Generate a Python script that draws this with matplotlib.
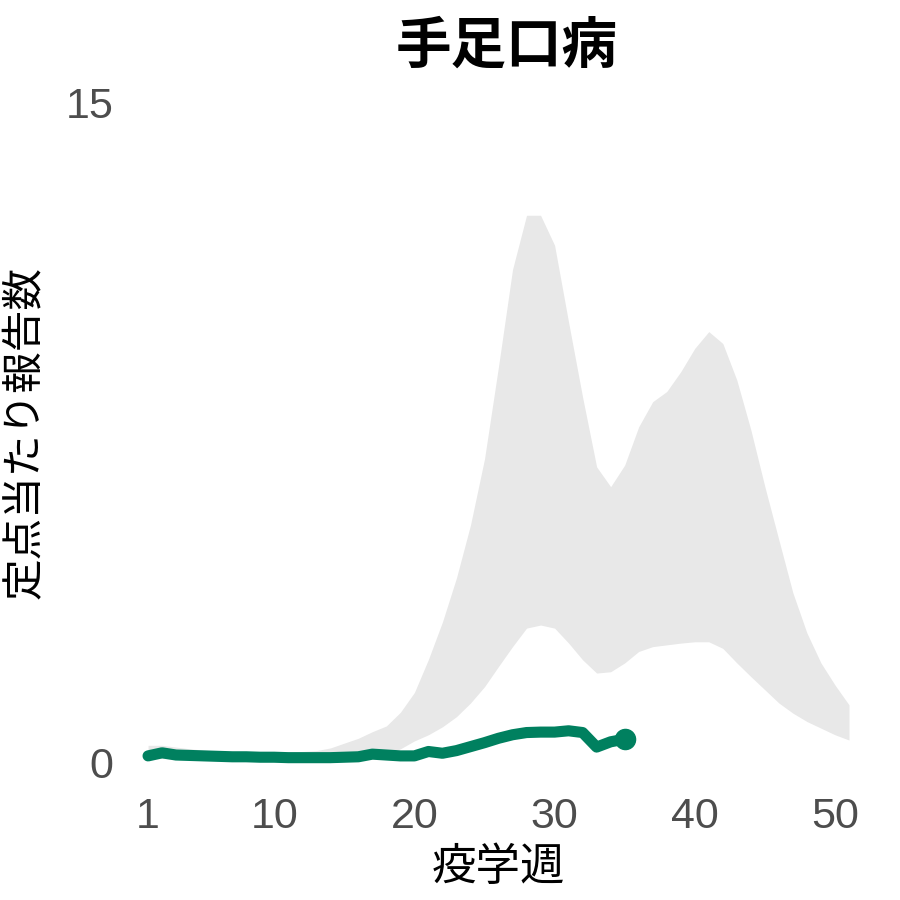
import matplotlib
matplotlib.use("Agg")
import matplotlib.pyplot as plt
import numpy as np

# past-years range (min / max per epidemiological week)
weeks = np.arange(1, 52)
band_low = [0.10, 0.10, 0.09, 0.08, 0.07, 0.06, 0.06, 0.05, 0.05, 0.05,
            0.05, 0.05, 0.05, 0.06, 0.07, 0.09, 0.12, 0.20, 0.32, 0.50,
            0.64, 0.82, 1.05, 1.36, 1.73, 2.19, 2.64, 3.06, 3.13, 3.06,
            2.72, 2.34, 2.04, 2.07, 2.27, 2.53, 2.64, 2.68, 2.72, 2.75,
            2.75, 2.60, 2.27, 1.96, 1.66, 1.36, 1.13, 0.94, 0.79, 0.64,
            0.52]
band_high = [0.40, 0.40, 0.36, 0.32, 0.29, 0.27, 0.26, 0.25, 0.25, 0.25,
             0.25, 0.26, 0.28, 0.34, 0.45, 0.56, 0.71, 0.84, 1.15, 1.60,
             2.35, 3.20, 4.20, 5.40, 6.90, 9.00, 11.20, 12.43, 12.43, 11.75,
             10.00, 8.30, 6.72, 6.27, 6.76, 7.63, 8.20, 8.43, 8.88, 9.41,
             9.79, 9.52, 8.69, 7.56, 6.27, 5.06, 3.86, 2.95, 2.27, 1.77,
             1.32]

# this year
cur_weeks = np.arange(1, 36)
cur_vals = [0.16, 0.23, 0.18, 0.17, 0.16, 0.15, 0.14, 0.14, 0.13, 0.13,
            0.12, 0.12, 0.12, 0.12, 0.13, 0.14, 0.20, 0.18, 0.16, 0.16,
            0.26, 0.22, 0.28, 0.37, 0.46, 0.56, 0.64, 0.69, 0.70, 0.70,
            0.73, 0.69, 0.36, 0.48, 0.54]

xticks = [1, 10, 20, 30, 40, 50]
yticks = [0, 15]

green = "#00805F"
cjk = ["Noto Sans CJK JP", "DejaVu Sans"]

fig = plt.figure(figsize=(9, 9), dpi=100)
ax = fig.add_axes([0.1567, 0.1278, 0.7944, 0.7833])

ax.fill_between(weeks, band_low, band_high, color="#E8E8E8", linewidth=0)
ax.plot(cur_weeks, cur_vals, color=green, linewidth=8,
        solid_capstyle="round", solid_joinstyle="round")
ax.plot(cur_weeks[-1], cur_vals[-1], "o", color=green, markersize=14.5)

ax.set_xlim(0.5, 51.5)
ax.set_ylim(-0.5, 15.5)
ax.set_xticks(xticks)
ax.set_yticks(yticks)
ax.tick_params(length=0, labelsize=31, labelcolor="#4D4D4D")
ax.tick_params(axis="x", pad=9)
ax.tick_params(axis="y", pad=20)
for lab in ax.get_xticklabels() + ax.get_yticklabels():
    lab.set_family(["Liberation Sans", "DejaVu Sans"])
for s in ax.spines.values():
    s.set_visible(False)

ax.set_xlabel("疫学週", fontsize=32, family=cjk, labelpad=5)
ax.set_ylabel("定点当たり報告数", fontsize=30, family=cjk, labelpad=14)
fig.text(0.5633, 0.948, "手足口病", fontsize=40, fontweight="bold",
         family=cjk, ha="center", va="center")

fig.savefig("out.png", dpi=100, facecolor="white")
